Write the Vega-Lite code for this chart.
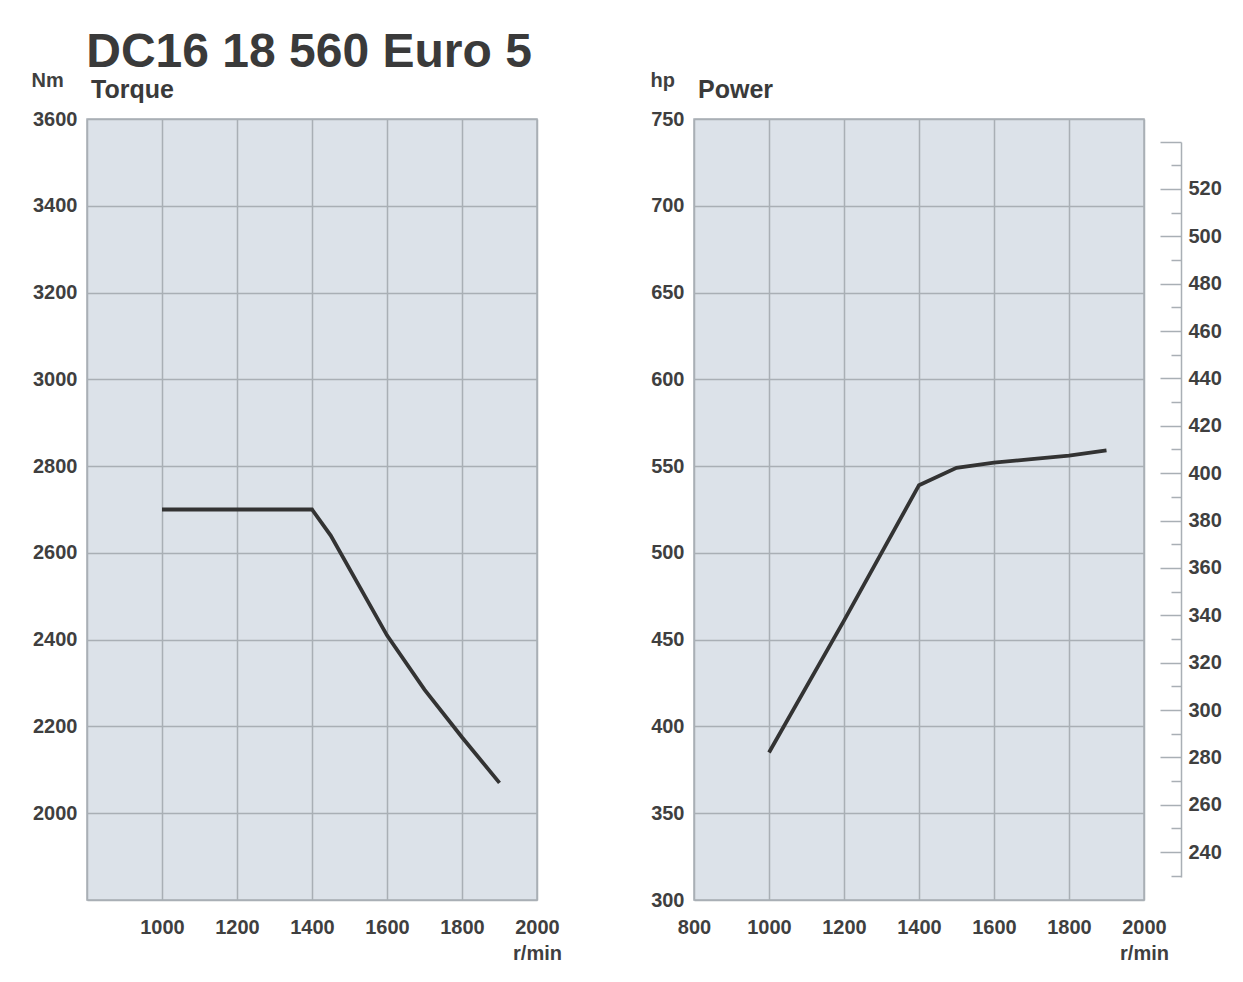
{
  "$schema": "https://vega.github.io/schema/vega-lite/v6.json",
  "background": "white",
  "padding": {"left": 30, "top": 29, "right": 10, "bottom": 10},
  "title": {
    "text": "DC16 18 560 Euro 5",
    "anchor": "start",
    "font": "Liberation Sans",
    "fontSize": 48,
    "fontWeight": "bold",
    "color": "#3a3a3a",
    "baseline": "alphabetic",
    "dx": 56,
    "offset": -46
  },
  "datasets": {
    "torque": [
      {"rpm": 1000, "torque": 2700},
      {"rpm": 1400, "torque": 2700},
      {"rpm": 1450, "torque": 2640},
      {"rpm": 1600, "torque": 2410},
      {"rpm": 1700, "torque": 2285},
      {"rpm": 1800, "torque": 2175},
      {"rpm": 1900, "torque": 2070}
    ],
    "power": [
      {"rpm": 1000, "hp": 385, "kW": 283},
      {"rpm": 1200, "hp": 461, "kW": 339},
      {"rpm": 1400, "hp": 539, "kW": 396},
      {"rpm": 1500, "hp": 549, "kW": 404},
      {"rpm": 1600, "hp": 552, "kW": 406},
      {"rpm": 1700, "hp": 554, "kW": 407},
      {"rpm": 1800, "hp": 556, "kW": 409},
      {"rpm": 1900, "hp": 559, "kW": 411}
    ]
  },
  "spacing": 86,
  "hconcat": [
    {
      "width": 450,
      "height": 781,
      "title": {"text": "Torque", "anchor": "start", "frame": "group", "dx": 4, "offset": -53, "baseline": "alphabetic", "font": "Liberation Sans", "fontSize": 25, "fontWeight": "bold", "color": "#3a3a3a"},
      "data": {"name": "torque"},
      "mark": {"type": "line", "color": "#333333", "strokeWidth": 3.8},
      "encoding": {
        "x": {
          "field": "rpm", "type": "quantitative",
          "scale": {"domain": [800, 2000], "nice": false, "zero": false},
          "axis": {"values": [800, 1000, 1200, 1400, 1600, 1800, 2000], "format": "d", "title": null,
            "labelExpr": "datum.value == 800 ? '' : datum.value == 2000 ? ['2000', 'r/min'] : datum.label"}
        },
        "y": {
          "field": "torque", "type": "quantitative",
          "scale": {"domain": [1800, 3600], "nice": false, "zero": false},
          "axis": {"values": [1800, 2000, 2200, 2400, 2600, 2800, 3000, 3200, 3400, 3600], "format": "d",
            "labelExpr": "datum.value == 1800 ? '' : datum.label",
            "title": "Nm", "titleX": -56, "titleY": -39}
        }
      }
    },
    {
      "width": 450,
      "height": 781,
      "title": {"text": "Power", "anchor": "start", "frame": "group", "dx": 4, "offset": -53, "baseline": "alphabetic", "font": "Liberation Sans", "fontSize": 25, "fontWeight": "bold", "color": "#3a3a3a"},
      "data": {"name": "power"},
      "layer": [
        {
          "mark": {"type": "line", "color": "#333333", "strokeWidth": 3.8},
          "encoding": {
            "x": {
              "field": "rpm", "type": "quantitative",
              "scale": {"domain": [800, 2000], "nice": false, "zero": false},
              "axis": {"values": [800, 1000, 1200, 1400, 1600, 1800, 2000], "format": "d", "title": null,
                "labelExpr": "datum.value == 2000 ? ['2000', 'r/min'] : datum.label"}
            },
            "y": {
              "field": "hp", "type": "quantitative",
              "scale": {"domain": [300, 750], "nice": false, "zero": false},
              "axis": {"values": [300, 350, 400, 450, 500, 550, 600, 650, 700, 750], "format": "d",
                "title": "hp", "titleX": -44, "titleY": -39}
            }
          }
        },
        {
          "mark": {"type": "line", "opacity": 0},
          "encoding": {
            "x": {"field": "rpm", "type": "quantitative"},
            "y": {
              "field": "kW", "type": "quantitative",
              "scale": {"domain": [219.8, 549.5], "nice": false, "zero": false},
              "axis": {
                "orient": "right", "offset": 37, "grid": false, "title": null, "format": "d",
                "values": [230, 240, 250, 260, 270, 280, 290, 300, 310, 320, 330, 340, 350, 360, 370, 380, 390, 400, 410, 420, 430, 440, 450, 460, 470, 480, 490, 500, 510, 520, 530, 540],
                "domain": true, "domainColor": "#a9afb5", "domainWidth": 1.5, "domainDash": [0, 23, 735, 100],
                "ticks": true, "tickColor": "#a9afb5", "tickWidth": 1.5,
                "tickSize": {"condition": {"test": "datum.value % 20 == 0", "value": -21}, "value": -10},
                "labelPadding": 28, "labelAlign": "left",
                "labelExpr": "datum.value % 20 == 0 && datum.value <= 520 ? datum.label : ''"
              }
            }
          }
        }
      ],
      "resolve": {"scale": {"y": "independent"}}
    }
  ],
  "config": {
    "view": {"fill": "#dce2e9", "stroke": "#a9afb5", "strokeWidth": 1.5},
    "axis": {
      "grid": true, "gridColor": "#a9afb5", "gridWidth": 1.5, "gridOpacity": 1,
      "domain": false, "ticks": false,
      "labelFont": "Liberation Sans", "labelFontSize": 20, "labelFontWeight": "bold", "labelColor": "#3f3f3f",
      "labelFlush": false, "labelOverlap": false, "labelPadding": 10, "labelLineHeight": 26,
      "titleFont": "Liberation Sans", "titleFontSize": 20, "titleFontWeight": "bold", "titleColor": "#3f3f3f",
      "titleAngle": 0, "titleAlign": "left", "titleBaseline": "middle"
    },
    "axisX": {"labelPadding": 17}
  }
}
